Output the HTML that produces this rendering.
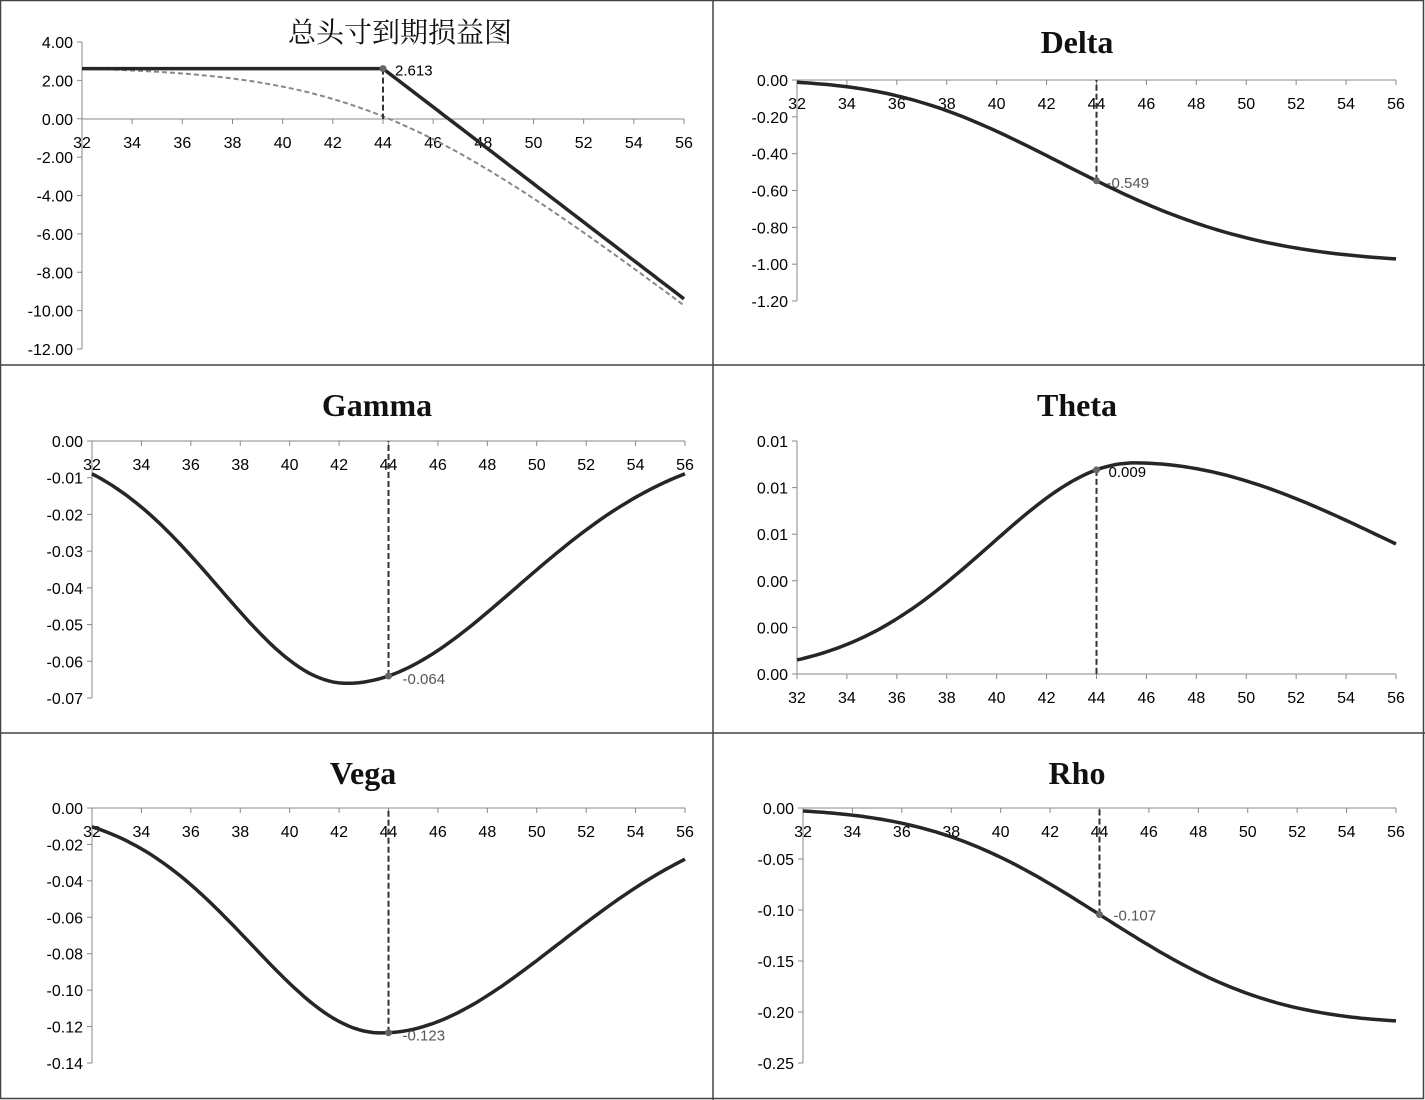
<!DOCTYPE html>
<html><head><meta charset="utf-8">
<style>
html,body{margin:0;padding:0;background:#fff;}
svg{display:block;}
.t{font-family:"Liberation Sans","Noto Sans CJK SC",sans-serif;}
</style></head>
<body>
<svg id="s" width="1425" height="1100" xmlns="http://www.w3.org/2000/svg">
<rect x="0.5" y="0.5" width="1423" height="1098" fill="#fff" stroke="#444" stroke-width="1.5"/>
<line x1="713" y1="0" x2="713" y2="1100" stroke="#444" stroke-width="1.5"/>
<line x1="0" y1="365" x2="1425" y2="365" stroke="#444" stroke-width="1.5"/>
<line x1="0" y1="733" x2="1425" y2="733" stroke="#444" stroke-width="1.5"/>
<g id="g"></g>
</svg>
<script>
var G=document.getElementById('g');var out='';
var SANS='style="font-family:\'Liberation Sans\',sans-serif"';
function Phi(z){var t=1/(1+0.2316419*Math.abs(z));var d=0.3989423*Math.exp(-z*z/2);var p=d*t*(0.3193815+t*(-0.3565638+t*(1.781478+t*(-1.821256+t*1.330274))));return z>0?1-p:p;}
function panel(c){
 var X=function(s){return c.x0+(s-32)*(c.x1-c.x0)/24;};
 var Y=function(v){return c.yTop+(c.vTop-v)*(c.yBot-c.yTop)/(c.vTop-c.vBot);};
 out+='<line x1="'+c.x0+'" y1="'+c.yTop+'" x2="'+c.x0+'" y2="'+c.yBot+'" stroke="#888" stroke-width="1"/>';
 for(var i=0;i<c.yl.length;i++){var yy=c.yTop+i*(c.yBot-c.yTop)/(c.yl.length-1);
  out+='<line x1="'+(c.x0-5)+'" y1="'+yy+'" x2="'+c.x0+'" y2="'+yy+'" stroke="#888"/>';
  out+='<text '+SANS+' x="'+(c.x0-9)+'" y="'+(yy+6)+'" font-size="16" text-anchor="end" fill="#000">'+c.yl[i]+'</text>';}
 var ax=c.xAxisY;
 out+='<line x1="'+c.x0+'" y1="'+ax+'" x2="'+c.x1+'" y2="'+ax+'" stroke="#888" stroke-width="1"/>';
 for(var s=32;s<=56;s+=2){var xx=X(s);
  out+='<line x1="'+xx+'" y1="'+ax+'" x2="'+xx+'" y2="'+(ax+5)+'" stroke="#888"/>';
  out+='<text '+SANS+' x="'+xx+'" y="'+(ax+29)+'" font-size="16" text-anchor="middle" fill="#000">'+s+'</text>';}
 if(c.extra)c.extra(X,Y);
 var d='';for(var s=32;s<=56.001;s+=0.2){d+=(d?'L':'M')+X(s).toFixed(1)+' '+Y(c.f(s)).toFixed(1);}
 out+='<path d="'+d+'" fill="none" stroke="#262626" stroke-width="3.5"/>';
 var px=X(44),py=Y(c.f(44));
 out+='<line x1="'+px+'" y1="'+py+'" x2="'+px+'" y2="'+c.dashTo+'" stroke="#333" stroke-width="2" stroke-dasharray="6,3"/>';
 out+='<circle cx="'+px+'" cy="'+py+'" r="3.5" fill="#666"/>';
 out+='<text '+SANS+' x="'+(px+c.lx)+'" y="'+(py+c.ly)+'" font-size="15" fill="'+c.lc+'">'+c.lab+'</text>';
 out+='<text x="'+c.tx+'" y="'+c.ty+'" text-anchor="middle" '+c.tstyle+'>'+c.title+'</text>';
}
var serif='style="font-family:\'Liberation Serif\',serif;font-weight:bold;font-size:32px" fill="#111"';
panel({x0:82,x1:684,yTop:42,yBot:349,vTop:4,vBot:-12,yl:['4.00','2.00','0.00','-2.00','-4.00','-6.00','-8.00','-10.00','-12.00'],xAxisY:119,
 f:function(s){return s<=44?2.613:2.613-(s-44)*1.0;},dashTo:119,lx:12,ly:7,lc:'#000',lab:'2.613',
 title:'总头寸到期损益图',tx:400,ty:42,tstyle:'style="font-family:\'Liberation Serif\',\'Noto Serif CJK SC\',serif;font-size:28px" fill="#111"',
 extra:function(X,Y){var d='';for(var s=32;s<=56.001;s+=0.2){var v=2.613-3.5*Math.log(1+Math.exp((s-43.64)/3.5))+0.12;d+=(d?'L':'M')+X(s).toFixed(1)+' '+Y(v).toFixed(1);}
  out+='<path d="'+d+'" fill="none" stroke="#888" stroke-width="2" stroke-dasharray="5,3"/>';}});
panel({x0:797,x1:1396,yTop:80,yBot:301,vTop:0,vBot:-1.2,yl:['0.00','-0.20','-0.40','-0.60','-0.80','-1.00','-1.20'],xAxisY:80,
 f:function(s){var z=Math.log(s/43.3)/0.135;return -Phi(z);},dashTo:80,lx:10,ly:7,lc:'#555',lab:'-0.549',title:'Delta',tx:1077,ty:53,tstyle:serif});
panel({x0:92,x1:685,yTop:441,yBot:698,vTop:0,vBot:-0.07,yl:['0.00','-0.01','-0.02','-0.03','-0.04','-0.05','-0.06','-0.07'],xAxisY:441,
 f:function(s){var sg=s<42.3?5.15:6.85;return -0.066*Math.exp(-(s-42.3)*(s-42.3)/(2*sg*sg));},dashTo:441,lx:14,ly:8,lc:'#555',lab:'-0.064',title:'Gamma',tx:377,ty:416,tstyle:serif});
panel({x0:797,x1:1396,yTop:441,yBot:674,vTop:0.05,vBot:0,yl:['0.01','0.01','0.01','0.00','0.00','0.00'],xAxisY:674,
 f:function(s){var sg=s<45.5?5.8:10.66;return 0.0453*Math.exp(-(s-45.5)*(s-45.5)/(2*sg*sg));},dashTo:674,lx:12,ly:7,lc:'#000',lab:'0.009',title:'Theta',tx:1077,ty:416,tstyle:serif});
panel({x0:92,x1:685,yTop:808,yBot:1063,vTop:0,vBot:-0.14,yl:['0.00','-0.02','-0.04','-0.06','-0.08','-0.10','-0.12','-0.14'],xAxisY:808,
 f:function(s){var sg=s<43.7?5.25:7.15;return -0.1235*Math.exp(-(s-43.7)*(s-43.7)/(2*sg*sg));},dashTo:808,lx:14,ly:8,lc:'#555',lab:'-0.123',title:'Vega',tx:363,ty:784,tstyle:serif});
panel({x0:803,x1:1396,yTop:808,yBot:1063,vTop:0,vBot:-0.25,yl:['0.00','-0.05','-0.10','-0.15','-0.20','-0.25'],xAxisY:808,
 f:function(s){return -0.212*Phi((s-44.1)/5.5);},dashTo:808,lx:14,ly:6,lc:'#555',lab:'-0.107',title:'Rho',tx:1077,ty:784,tstyle:serif});
G.innerHTML=out;
</script>
</body></html>
